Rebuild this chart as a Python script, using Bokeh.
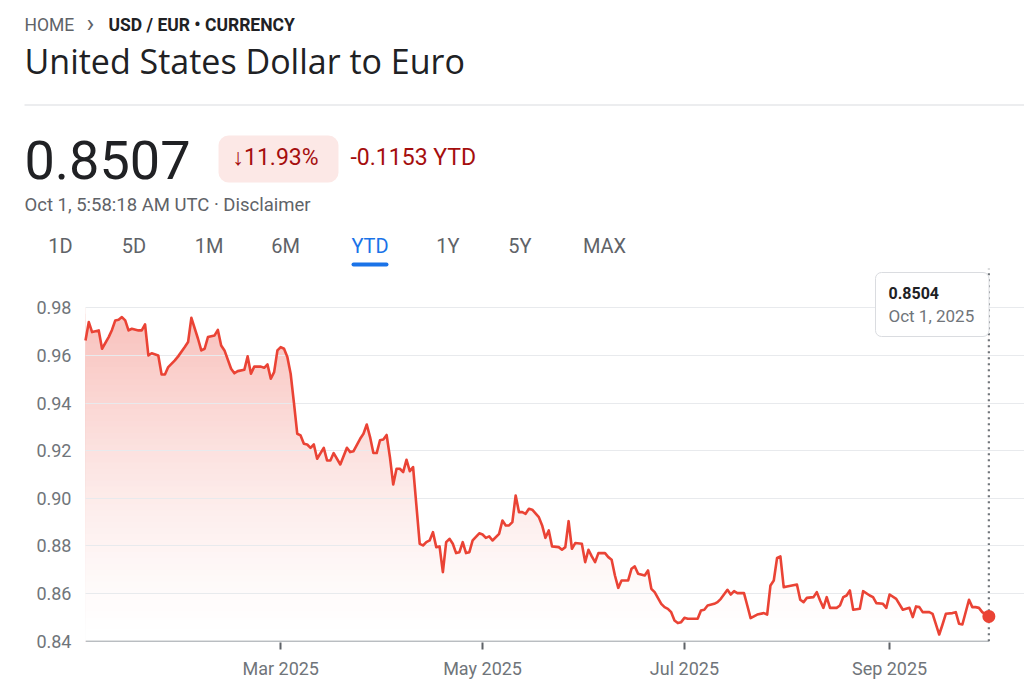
from datetime import datetime, timedelta
import numpy as np
from bokeh.plotting import figure
from bokeh.layouts import column
from bokeh.models import Range1d, FixedTicker, Label, BoxAnnotation
from bokeh.embed import file_html
from bokeh.resources import INLINE

# ---------------- data ----------------
dates = [
    "2025-01-01", "2025-01-02", "2025-01-03", "2025-01-05", "2025-01-06", "2025-01-08", "2025-01-09",
    "2025-01-10", "2025-01-11", "2025-01-12", "2025-01-13", "2025-01-14", "2025-01-15", "2025-01-17",
    "2025-01-18", "2025-01-19", "2025-01-20", "2025-01-21", "2025-01-23", "2025-01-24", "2025-01-25",
    "2025-01-26", "2025-01-28", "2025-01-29", "2025-01-31", "2025-02-01", "2025-02-02", "2025-02-04",
    "2025-02-05", "2025-02-06", "2025-02-07", "2025-02-09", "2025-02-10", "2025-02-11", "2025-02-12",
    "2025-02-14", "2025-02-15", "2025-02-16", "2025-02-18", "2025-02-19", "2025-02-20", "2025-02-21",
    "2025-02-23", "2025-02-24", "2025-02-25", "2025-02-26", "2025-02-27", "2025-02-28", "2025-03-01",
    "2025-03-02", "2025-03-03", "2025-03-04", "2025-03-05", "2025-03-06", "2025-03-07", "2025-03-08",
    "2025-03-09", "2025-03-10", "2025-03-11", "2025-03-12", "2025-03-14", "2025-03-15", "2025-03-16",
    "2025-03-17", "2025-03-19", "2025-03-21", "2025-03-22", "2025-03-23", "2025-03-25", "2025-03-26",
    "2025-03-27", "2025-03-28", "2025-03-29", "2025-03-30", "2025-03-31", "2025-04-01", "2025-04-02",
    "2025-04-03", "2025-04-04", "2025-04-05", "2025-04-06", "2025-04-07", "2025-04-08", "2025-04-09",
    "2025-04-10", "2025-04-11", "2025-04-12", "2025-04-13", "2025-04-14", "2025-04-15", "2025-04-16",
    "2025-04-17", "2025-04-18", "2025-04-19", "2025-04-20", "2025-04-21", "2025-04-22", "2025-04-23",
    "2025-04-24", "2025-04-25", "2025-04-26", "2025-04-27", "2025-04-28", "2025-04-30", "2025-05-01",
    "2025-05-02", "2025-05-03", "2025-05-04", "2025-05-06", "2025-05-07", "2025-05-08", "2025-05-09",
    "2025-05-10", "2025-05-11", "2025-05-12", "2025-05-13", "2025-05-14", "2025-05-15", "2025-05-16",
    "2025-05-18", "2025-05-19", "2025-05-20", "2025-05-21", "2025-05-22", "2025-05-24", "2025-05-25",
    "2025-05-26", "2025-05-27", "2025-05-28", "2025-05-29", "2025-05-31", "2025-06-01", "2025-06-02",
    "2025-06-03", "2025-06-04", "2025-06-05", "2025-06-07", "2025-06-08", "2025-06-09", "2025-06-10",
    "2025-06-11", "2025-06-12", "2025-06-14", "2025-06-15", "2025-06-16", "2025-06-17", "2025-06-19",
    "2025-06-20", "2025-06-21", "2025-06-22", "2025-06-24", "2025-06-25", "2025-06-26", "2025-06-27",
    "2025-06-28", "2025-06-29", "2025-06-30", "2025-07-01", "2025-07-02", "2025-07-04", "2025-07-05",
    "2025-07-06", "2025-07-07", "2025-07-08", "2025-07-10", "2025-07-11", "2025-07-12", "2025-07-14",
    "2025-07-15", "2025-07-16", "2025-07-17", "2025-07-19", "2025-07-20", "2025-07-21", "2025-07-23",
    "2025-07-25", "2025-07-26", "2025-07-27", "2025-07-28", "2025-07-29", "2025-07-30", "2025-07-31",
    "2025-08-01", "2025-08-04", "2025-08-05", "2025-08-06", "2025-08-07", "2025-08-09", "2025-08-10",
    "2025-08-11", "2025-08-12", "2025-08-13", "2025-08-14", "2025-08-16", "2025-08-17", "2025-08-18",
    "2025-08-19", "2025-08-20", "2025-08-21", "2025-08-23", "2025-08-24", "2025-08-26", "2025-08-27",
    "2025-08-28", "2025-08-30", "2025-08-31", "2025-09-01", "2025-09-03", "2025-09-05", "2025-09-06",
    "2025-09-07", "2025-09-08", "2025-09-09", "2025-09-10", "2025-09-11", "2025-09-13", "2025-09-14",
    "2025-09-16", "2025-09-17", "2025-09-18", "2025-09-20", "2025-09-21", "2025-09-22", "2025-09-23",
    "2025-09-25", "2025-09-26", "2025-09-27", "2025-09-28", "2025-09-29", "2025-10-01",
]
rates = [
    0.9663, 0.9740, 0.9698, 0.9705, 0.9628, 0.9677, 0.9707,
    0.9747, 0.9750, 0.9761, 0.9747, 0.9705, 0.9712, 0.9705,
    0.9705, 0.9730, 0.9600, 0.9609, 0.9600, 0.9520, 0.9520,
    0.9551, 0.9579, 0.9596, 0.9635, 0.9656, 0.9758, 0.9670,
    0.9621, 0.9628, 0.9677, 0.9684, 0.9707, 0.9642, 0.9621,
    0.9544, 0.9525, 0.9534, 0.9540, 0.9596, 0.9523, 0.9553,
    0.9553, 0.9548, 0.9562, 0.9502, 0.9530, 0.9621, 0.9635,
    0.9628, 0.9593, 0.9523, 0.9400, 0.9271, 0.9264, 0.9229,
    0.9226, 0.9212, 0.9226, 0.9166, 0.9212, 0.9159, 0.9159,
    0.9190, 0.9142, 0.9212, 0.9194, 0.9198, 0.9250, 0.9271,
    0.9310, 0.9257, 0.9190, 0.9190, 0.9244, 0.9247, 0.9266,
    0.9173, 0.9058, 0.9124, 0.9124, 0.9110, 0.9162, 0.9114,
    0.9131, 0.8970, 0.8809, 0.8802, 0.8816, 0.8823, 0.8858,
    0.8795, 0.8798, 0.8690, 0.8816, 0.8830, 0.8809, 0.8770,
    0.8774, 0.8816, 0.8770, 0.8774, 0.8823, 0.8853, 0.8848,
    0.8834, 0.8840, 0.8823, 0.8851, 0.8907, 0.8886, 0.8886,
    0.8900, 0.9012, 0.8942, 0.8942, 0.8935, 0.8956, 0.8952,
    0.8921, 0.8886, 0.8834, 0.8865, 0.8798, 0.8795, 0.8784,
    0.8795, 0.8904, 0.8788, 0.8812, 0.8809, 0.8732, 0.8784,
    0.8756, 0.8732, 0.8770, 0.8770, 0.8753, 0.8742, 0.8676,
    0.8624, 0.8655, 0.8655, 0.8704, 0.8714, 0.8683, 0.8676,
    0.8697, 0.8620, 0.8606, 0.8557, 0.8543, 0.8536, 0.8522,
    0.8487, 0.8476, 0.8480, 0.8498, 0.8494, 0.8494, 0.8494,
    0.8529, 0.8532, 0.8550, 0.8557, 0.8564, 0.8578, 0.8616,
    0.8596, 0.8610, 0.8602, 0.8602, 0.8550, 0.8497, 0.8512,
    0.8518, 0.8512, 0.8634, 0.8655, 0.8750, 0.8756, 0.8627,
    0.8630, 0.8638, 0.8574, 0.8564, 0.8582, 0.8585, 0.8606,
    0.8571, 0.8540, 0.8585, 0.8540, 0.8540, 0.8550, 0.8585,
    0.8592, 0.8613, 0.8532, 0.8536, 0.8610, 0.8592, 0.8585,
    0.8560, 0.8557, 0.8540, 0.8596, 0.8578, 0.8532, 0.8536,
    0.8540, 0.8501, 0.8546, 0.8543, 0.8522, 0.8522, 0.8515,
    0.8428, 0.8470, 0.8515, 0.8518, 0.8522, 0.8473, 0.8470,
    0.8574, 0.8543, 0.8543, 0.8540, 0.8522, 0.8504,
]
y_ticks = [0.84, 0.86, 0.88, 0.90, 0.92, 0.94, 0.96, 0.98]
y_tick_labels = ["0.84", "0.86", "0.88", "0.90", "0.92", "0.94", "0.96", "0.98"]
x_tick_dates = ["2025-03-01", "2025-05-01", "2025-07-01", "2025-09-01"]
x_tick_labels = ["Mar 2025", "May 2025", "Jul 2025", "Sep 2025"]
tabs = ["1D", "5D", "1M", "6M", "YTD", "1Y", "5Y", "MAX"]
active_tab = "YTD"
breadcrumb_home = "HOME"
breadcrumb_pair = "USD / EUR \u2022 CURRENCY"
title_text = "United States Dollar to Euro"
price_text = "0.8507"
change_pct_text = "\u219311.93%"
change_abs_text = "-0.1153 YTD"
timestamp_text = "Oct 1, 5:58:18 AM UTC \u00b7 Disclaimer"

# ---------------- geometry ----------------
W = 1024
HEAD_H = 268
CH_H = 430
LEFT, TOP, BOTTOM = 85, 0, 56
PX_PER_DAY = 3.309
PX_PER_UNIT = 2381.5
BASE_SHIFT = 0.38   # label baseline correction (fraction of font size)

RED = "#ea4335"
GRAY_TXT = "#5f6368"
AXIS_TXT = "#70757a"
DARK = "#202124"

def to_dt(s):
    return datetime.strptime(s, "%Y-%m-%d")

dts = [to_dt(d) for d in dates]
vals = np.array(rates)
epoch = datetime(1970, 1, 1)
def ms(dt):
    return (dt - epoch).total_seconds() * 1000.0

# ================= header figure (pixel-like coordinates) =================
hd = figure(width=W, height=HEAD_H, x_range=Range1d(0, W), y_range=Range1d(HEAD_H, 0),
            x_axis_location=None, y_axis_location=None, min_border=0,
            output_backend="svg", toolbar_location=None)
hd.frame_align = False
hd.outline_line_color = None
hd.grid.visible = False
hd.background_fill_color = "white"
hd.border_fill_color = "white"

def txt(fig, x, y, s, size, color, font="Roboto", style="normal", align="left",
        level="annotation", units="data"):
    lab = Label(x=x, y=y - BASE_SHIFT * size, x_units=units, y_units=units, text=s,
                text_font=font, text_font_size=f"{size}px", text_color=color,
                text_font_style=style, text_align=align, text_baseline="alphabetic",
                level=level)
    fig.add_layout(lab)

def box(fig, l, r, t, b, color, radius=0, line=None, level="annotation", units="data"):
    bx = BoxAnnotation(left=l, right=r, top=t, bottom=b,
                       left_units=units, right_units=units,
                       top_units=units, bottom_units=units,
                       fill_color=color, fill_alpha=1.0,
                       line_color=line, line_width=1, line_alpha=1.0 if line else 0.0,
                       border_radius=radius, level=level)
    fig.add_layout(bx)

txt(hd, 24, 30.7, breadcrumb_home, 17.5, GRAY_TXT)
txt(hd, 86, 32, "\u203a", 26, GRAY_TXT)
txt(hd, 108, 30.7, breadcrumb_pair, 17.5, DARK, style="bold")
txt(hd, 24, 73.5, title_text, 34, DARK, font="Open Sans")
box(hd, 24, 1024, 104, 105, "#dadce0")

txt(hd, 24, 180, price_text, 54, DARK)
box(hd, 218, 338, 135, 182, "#fce8e6", radius=10)
txt(hd, 232, 165.7, change_pct_text, 23, "#a50e0e")
txt(hd, 350, 165.7, change_abs_text, 23, "#a50e0e")
txt(hd, 24, 211.7, timestamp_text, 18.5, GRAY_TXT)

tab_centers = [60, 133.5, 208.5, 285, 369.5, 447.5, 519.5, 604]
for cx, name in zip(tab_centers, tabs):
    txt(hd, cx, 252.7, name, 20, "#1a73e8" if name == active_tab else GRAY_TXT, align="center")
    if name == active_tab:
        box(hd, cx - 18.5, cx + 18.5, 262, 266, "#1a73e8", radius=2)

# ================= chart figure =================
x0 = datetime(2025, 1, 1)
x_end = x0 + timedelta(days=(W - LEFT) / PX_PER_DAY)
y_base = y_ticks[0]
y_start = y_base - 1.3 / PX_PER_UNIT
y_end = y_start + (CH_H - TOP - BOTTOM) / PX_PER_UNIT

p = figure(width=W, height=CH_H, x_axis_type="datetime",
           x_range=Range1d(x0, x_end), y_range=Range1d(y_start, y_end),
           output_backend="svg", toolbar_location=None,
           min_border_left=LEFT, min_border_right=0,
           min_border_top=TOP, min_border_bottom=BOTTOM)
p.frame_align = False
p.outline_line_color = None
p.background_fill_color = "white"
p.border_fill_color = "white"

# gradient fill: stacked bands, masked by a white area above the line
nb = 56
top_v = y_ticks[-1]
edges = np.linspace(y_base, top_v, nb + 1)
tops, cols = [], []
for k in range(nb, 0, -1):
    e = edges[k]
    mid = e - (edges[1] - edges[0]) / 2
    t = min(max((mid - y_base) / 0.13, 0.0), 1.0)
    a = 0.31 * t ** 1.4
    r = int(round(255 * (1 - a) + 234 * a))
    g = int(round(255 * (1 - a) + 67 * a))
    b = int(round(255 * (1 - a) + 53 * a))
    tops.append(e)
    cols.append("#%02x%02x%02x" % (r, g, b))
p.quad(left=[dts[0]] * nb, right=[dts[-1]] * nb, bottom=[y_base] * nb, top=tops,
       fill_color=cols, line_color=None)
p.varea(x=dts, y1=vals, y2=[y_end] * len(vals), fill_color="white")

# grid
p.xgrid.visible = False
p.ygrid.ticker = FixedTicker(ticks=y_ticks[1:])
p.ygrid.grid_line_color = "#e8eaed"
p.ygrid.grid_line_width = 1
p.ygrid.level = "guide"

# axis baseline and dotted cursor line
p.segment(x0=[dts[0]], y0=[y_base], x1=[dts[-1]], y1=[y_base], line_color="#9aa0a6", line_width=1)
p.segment(x0=[dts[-1]], y0=[y_base], x1=[dts[-1]], y1=[y_end], line_color="#70757a",
          line_width=2.2, line_dash="2 4")

# price line and last point
ln = p.line(x=dts, y=vals, line_color=RED, line_width=2.6, line_join="round")
ln.level = "annotation"
dot = p.scatter(x=[dts[-1]], y=[vals[-1]], size=13, fill_color=RED, line_color=None)
dot.level = "annotation"

# axes
p.yaxis.ticker = FixedTicker(ticks=y_ticks)
p.yaxis.major_label_overrides = {v: s for v, s in zip(y_ticks, y_tick_labels)}
p.yaxis.axis_line_color = None
p.yaxis.major_tick_line_color = None
p.yaxis.minor_tick_line_color = None
p.yaxis.major_tick_out = 0
p.yaxis.major_tick_in = 0
p.yaxis.major_label_standoff = 14
p.yaxis.major_label_text_font = "Roboto"
p.yaxis.major_label_text_font_size = "18px"
p.yaxis.major_label_text_color = AXIS_TXT

xt = [ms(to_dt(d)) for d in x_tick_dates]
p.xaxis.ticker = FixedTicker(ticks=xt)
p.xaxis.major_label_overrides = {v: s for v, s in zip(xt, x_tick_labels)}
p.xaxis.axis_line_color = None
p.xaxis.major_tick_line_color = GRAY_TXT
p.xaxis.major_tick_line_width = 2
p.xaxis.major_tick_out = 7
p.xaxis.major_tick_in = 0
p.xaxis.minor_tick_line_color = None
p.xaxis.major_label_standoff = 8
p.xaxis.major_label_text_font = "Roboto"
p.xaxis.major_label_text_font_size = "18px"
p.xaxis.major_label_text_color = AXIS_TXT

# tooltip for the last point (canvas pixels of the chart figure)
last = dts[-1]
box(p, 875, 988.5, 4, 68, "#ffffff", radius=6, line="#dadce0", level="overlay", units="canvas")
txt(p, 888, 30.3, f"{vals[-1]:.4f}", 16, DARK, style="bold", level="overlay", units="canvas")
txt(p, 888, 53.7, f"{last:%b} {last.day}, {last.year}", 17, AXIS_TXT, level="overlay", units="canvas")

layout = column(hd, p, spacing=0)
open("out.html", "w").write(file_html(layout, INLINE))
